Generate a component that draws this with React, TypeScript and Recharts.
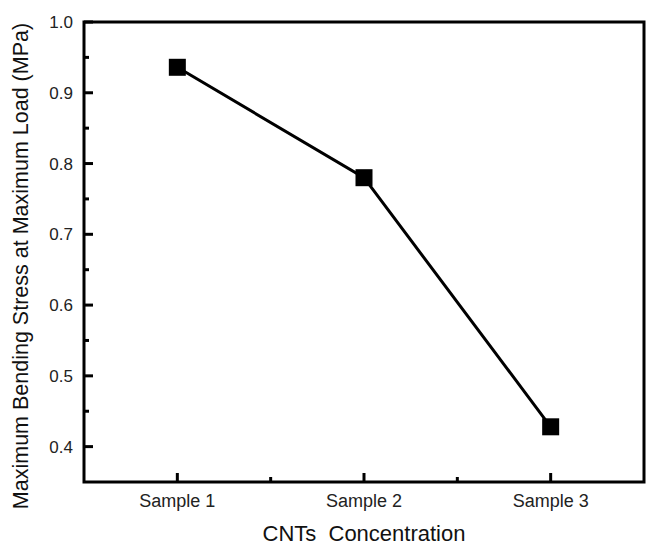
import React from "react";
import { LineChart, Line, XAxis, YAxis, ReferenceArea } from "recharts";

const categories = ["Sample 1", "Sample 2", "Sample 3"];
const stressValues = [0.936, 0.78, 0.428];
const xTicks = [1, 1.5, 2, 2.5, 3];
const yTicks = [0.4, 0.45, 0.5, 0.55, 0.6, 0.65, 0.7, 0.75, 0.8, 0.85, 0.9, 0.95, 1.0];
const yLabel = "Maximum Bending Stress at Maximum Load (MPa)";
const xLabel = "CNTs  Concentration";

const data = categories.map((name, i) => ({ pos: i + 1, name, stress: stressValues[i] }));

const FONT = "'Liberation Sans', Arial, sans-serif";
const INK = "#111";

const XTick = (props: any) => {
  const { x, y, payload } = props;
  const v = payload.value as number;
  const major = Number.isInteger(v);
  return (
    <g>
      <line x1={x} x2={x} y1={y} y2={y - (major ? 9 : 5)} stroke="#000" strokeWidth={3} />
      {major && (
        <text x={x} y={y + 25} textAnchor="middle" fontSize={18} fontFamily={FONT} fill="#222">
          {categories[v - 1]}
        </text>
      )}
    </g>
  );
};

const YTick = (props: any) => {
  const { x, y, payload } = props;
  const v = payload.value as number;
  const major = Math.round(v * 100) % 10 === 0;
  return (
    <g>
      <line x1={x} x2={x + (major ? 9 : 5)} y1={y} y2={y} stroke="#000" strokeWidth={3} />
      {major && (
        <text x={x - 11} y={y + 6} textAnchor="end" fontSize={17} fontFamily={FONT} fill="#222">
          {v.toFixed(1)}
        </text>
      )}
    </g>
  );
};

const SquareDot = (props: any) => {
  const { cx, cy } = props;
  if (cx == null || cy == null) return null;
  return <rect x={cx - 8.5} y={cy - 8.5} width={17} height={17} fill="#000" />;
};

const YTitle = () => {
  const cx = 28;
  const cy = 266;
  return (
    <text
      x={cx}
      y={cy}
      transform={`rotate(-90 ${cx} ${cy})`}
      textAnchor="middle"
      fontSize={21.5}
      fontFamily={FONT}
      fill={INK}
    >
      {yLabel}
    </text>
  );
};

const XTitle = () => (
  <text
    x={364}
    y={541}
    textAnchor="middle"
    fontSize={22}
    fontFamily={FONT}
    fill={INK}
    style={{ whiteSpace: "pre" }}
  >
    {xLabel}
  </text>
);

export default function App() {
  return (
    <div style={{ position: "absolute", left: 0, top: 0, width: 648, height: 547, background: "#fff" }}>
      <LineChart width={648} height={547} data={data} margin={{ top: 22, right: 4, bottom: 0, left: 0 }}>
        <XAxis
          dataKey="pos"
          type="number"
          domain={[0.5, 3.5]}
          ticks={xTicks}
          tick={<XTick />}
          tickLine={false}
          tickSize={0}
          tickMargin={0}
          height={65}
          axisLine={false}
          interval={0}
          label={<XTitle />}
        />
        <YAxis
          type="number"
          domain={[0.35, 1.0]}
          ticks={yTicks}
          tick={<YTick />}
          tickLine={false}
          tickSize={0}
          tickMargin={0}
          width={84}
          interval={0}
          axisLine={false}
          label={<YTitle />}
        />
        <ReferenceArea
          x1={0.5}
          x2={3.5}
          y1={0.35}
          y2={1.0}
          fill="none"
          fillOpacity={0}
          stroke="#000"
          strokeWidth={3}
        />
        <Line
          dataKey="stress"
          type="linear"
          stroke="#000"
          strokeWidth={3}
          dot={<SquareDot />}
          activeDot={false}
          isAnimationActive={false}
        />
      </LineChart>
    </div>
  );
}
